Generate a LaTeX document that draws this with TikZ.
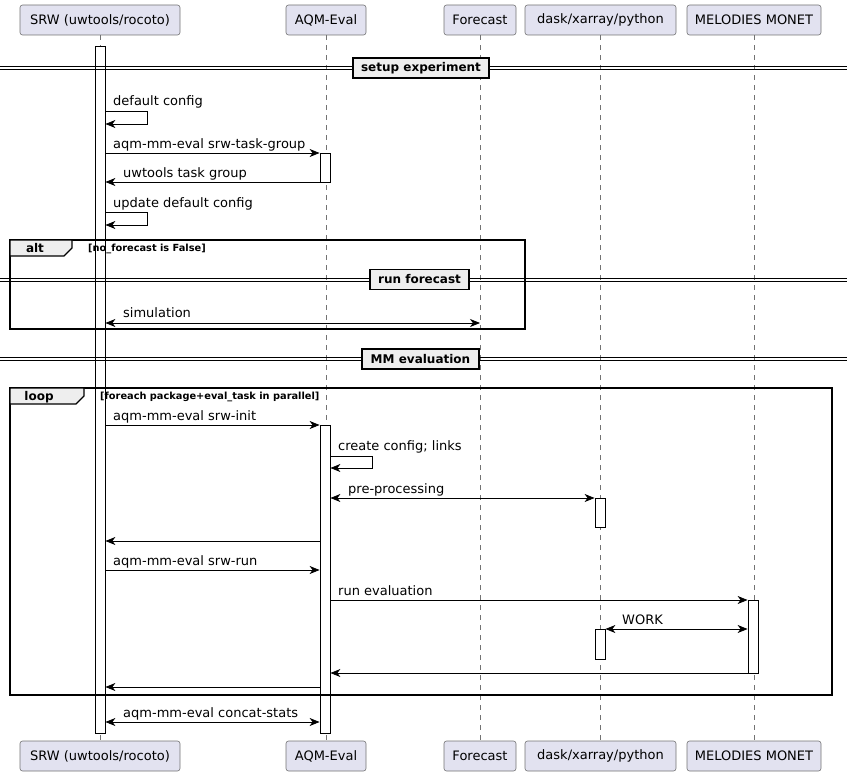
\documentclass[tikz,border=0pt]{standalone}
\usepackage{fontspec}
\setmainfont{DejaVu Sans}
\usetikzlibrary{arrows.meta}
\definecolor{partfill}{HTML}{E2E2F0}
\definecolor{sepfill}{HTML}{EEEEEE}
\begin{document}
\begin{tikzpicture}[x=1pt,y=-1pt,
  part/.style={draw=black!55, line width=0.6pt, fill=partfill, rounded corners=2.5pt, minimum height=30pt, inner sep=0pt, font=\fontsize{13}{15}\selectfont},
  life/.style={draw=black!55, line width=0.6pt, dash pattern=on 5pt off 5pt},
  actbar/.style={draw=black, line width=0.8pt, fill=white, minimum width=10pt, inner sep=0pt, anchor=north},
  tip/.tip={Stealth[length=10pt,width=8pt,inset=3pt]},
  msg/.style={line width=0.8pt, -tip},
  bimsg/.style={line width=0.8pt, tip-tip},
  lbl/.style={font=\fontsize{13}{15}\selectfont, anchor=base west, inner sep=0pt},
  sepbox/.style={draw=black, line width=1.5pt, fill=sepfill, font=\bfseries\fontsize{12}{14}\selectfont, minimum height=20pt, inner sep=0pt},
  sepline/.style={line width=0.8pt},
  framebox/.style={draw=black, line width=1.3pt},
  tabbox/.style={draw=black, line width=1.3pt, fill=sepfill},
  tablbl/.style={font=\bfseries\fontsize{12}{14}\selectfont, inner sep=0pt},
  guard/.style={font=\bfseries\fontsize{9.8}{11}\selectfont, anchor=west, inner sep=0pt}
]
\useasboundingbox (0,0) rectangle (847,776);

% participants
\node[part, minimum width=160pt] (p1) at (100,20) {SRW (uwtools/rocoto)};
\node[part, minimum width=80pt] (p2) at (326,20) {AQM-Eval};
\node[part, minimum width=72pt] (p3) at (480,20) {Forecast};
\node[part, minimum width=151pt] (p4) at (600.5,20) {dask/xarray/python};
\node[part, minimum width=134pt] (p5) at (754,20) {MELODIES MONET};
\node[part, minimum width=160pt] (q1) at (100,756) {SRW (uwtools/rocoto)};
\node[part, minimum width=80pt] (q2) at (326,756) {AQM-Eval};
\node[part, minimum width=72pt] (q3) at (480,756) {Forecast};
\node[part, minimum width=151pt] (q4) at (600.5,756) {dask/xarray/python};
\node[part, minimum width=134pt] (q5) at (754,756) {MELODIES MONET};

% lifelines
\foreach \i in {1,...,5} { \draw[life] (p\i.south) -- (q\i.north); }

% activation bars
\node[actbar, minimum height=687pt] (a1) at (100,46) {};
\node[actbar, minimum height=29pt] (a2) at (325,153) {};
\node[actbar, minimum height=308pt] (a3) at (325,425) {};
\node[actbar, minimum height=29pt] (a4) at (600,498) {};
\node[actbar, minimum height=73pt] (a5) at (753,600) {};
\node[actbar, minimum height=30pt] (a6) at (600,629) {};

% frames
\draw[framebox] (10,240) rectangle (525,329);
\draw[tabbox] (10,240) -- (72,240) -- (72,248) -- (64,256) -- (10,256) -- cycle;
\node[tablbl] (altl) at (35,248.5) {alt};
\node[guard] (altg) at (88,248.5) {[no\_forecast is False]};

\draw[framebox] (10,388) rectangle (832,695);
\draw[tabbox] (10,388) -- (84,388) -- (84,396) -- (76,404) -- (10,404) -- cycle;
\node[tablbl] (loopl) at (39,397) {loop};
\node[guard] (loopg) at (100,396.5) {[foreach package+eval\_task in parallel]};

% separators
\draw[sepline] (0,66.5) -- (847,66.5) (0,69.5) -- (847,69.5);
\node[sepbox, minimum width=136pt] (s1) at (421,68) {setup experiment};
\draw[sepline] (0,278) -- (847,278) (0,281) -- (847,281);
\node[sepbox, minimum width=99pt] (s2) at (419.5,279.5) {run forecast};
\draw[sepline] (0,357.5) -- (847,357.5) (0,360.5) -- (847,360.5);
\node[sepbox, minimum width=117pt] (s3) at (420.5,359) {MM evaluation};

% messages
\node[lbl] (l1) at (113,106) {default config};
\draw[msg] (a1.east |- 0,111) -- ++(42,0) -- ++(0,13) -- (a1.east |- 0,124);

\node[lbl] (l2) at (113,148) {aqm-mm-eval srw-task-group};
\draw[msg] (a1.east |- 0,153) -- (a2.west |- 0,153);

\node[lbl] (l3) at (123,177) {uwtools task group};
\draw[msg] (a2.west |- 0,182) -- (a1.east |- 0,182);

\node[lbl] (l4) at (113,207) {update default config};
\draw[msg] (a1.east |- 0,212) -- ++(42,0) -- ++(0,13) -- (a1.east |- 0,225);

\node[lbl] (l5) at (123,317) {simulation};
\draw[bimsg] (a1.east |- 0,323) -- (p3.south |- 0,323);

\node[lbl] (l6) at (113,420) {aqm-mm-eval srw-init};
\draw[msg] (a1.east |- 0,425) -- (a3.west |- 0,425);

\node[lbl] (l7) at (338,450) {create config; links};
\draw[msg] (a3.east |- 0,456) -- ++(42,0) -- ++(0,12) -- (a3.east |- 0,468);

\node[lbl] (l8) at (348,493) {pre-processing};
\draw[bimsg] (a3.east |- 0,498) -- (a4.west |- 0,498);

\draw[msg] (a3.west |- 0,541) -- (a1.east |- 0,541);

\node[lbl] (l9) at (113,565) {aqm-mm-eval srw-run};
\draw[msg] (a1.east |- 0,570) -- (a3.west |- 0,570);

\node[lbl] (l10) at (338,595) {run evaluation};
\draw[msg] (a3.east |- 0,600) -- (a5.west |- 0,600);

\node[lbl] (l11) at (622,624) {WORK};
\draw[bimsg] (a6.east |- 0,629) -- (a5.west |- 0,629);

\draw[msg] (a5.west |- 0,673) -- (a3.east |- 0,673);
\draw[msg] (a3.west |- 0,687) -- (a1.east |- 0,687);

\node[lbl] (l12) at (123,717) {aqm-mm-eval concat-stats};
\draw[bimsg] (a1.east |- 0,722) -- (a3.west |- 0,722);
\end{tikzpicture}
\end{document}
